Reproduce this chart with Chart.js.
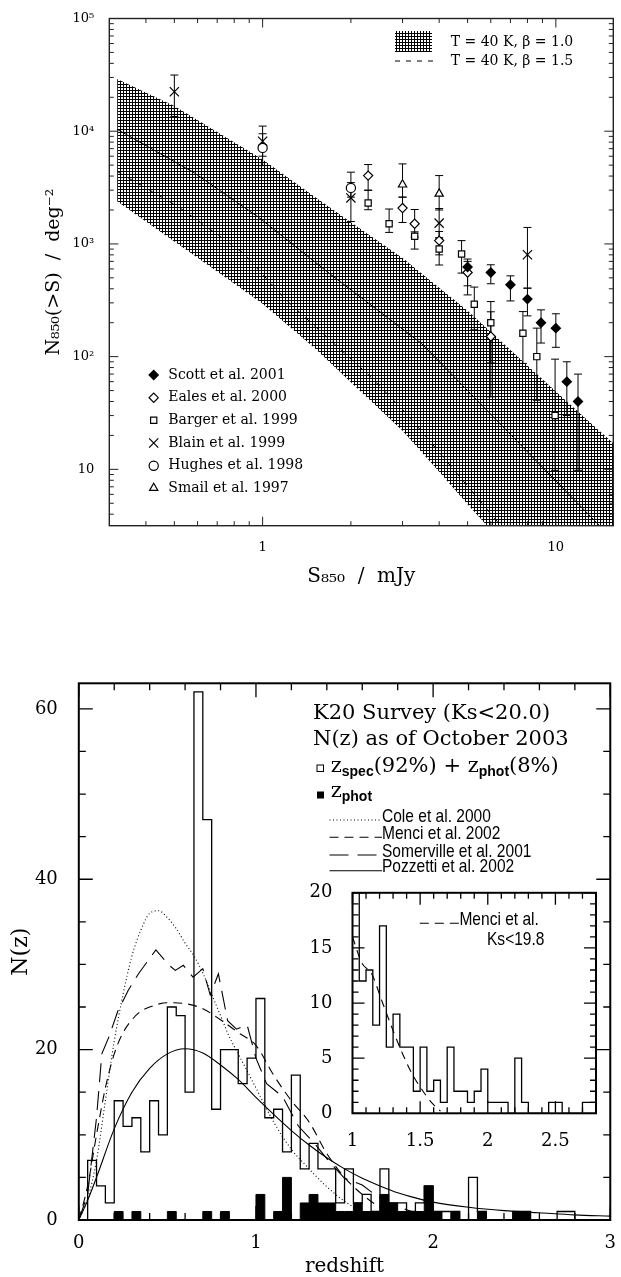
<!DOCTYPE html>
<html>
<head>
<meta charset="utf-8">
<title>Submm counts and K20 N(z)</title>
<script src="https://cdn.jsdelivr.net/npm/chart.js@4.4.1/dist/chart.umd.min.js"></script>
<style>
  html, body { margin:0; padding:0; background:#fff; }
  #page { position:relative; width:621px; height:1277px; background:#fff; overflow:hidden; }
  #page canvas { position:absolute; }
</style>
</head>
<body>
<div id="page">
  <canvas id="cTop" width="621" height="600" style="left:0;top:0;width:621px;height:600px"></canvas>
  <canvas id="cBot" width="621" height="637" style="left:0;top:640px;width:621px;height:637px"></canvas>
  <canvas id="cIns" width="310" height="290" style="left:300px;top:870px;width:310px;height:290px"></canvas>
</div>
<script>
// ================= TOP PANEL DATA (S850 in mJy, N(>S) per deg^2) =================
const BAND_S  = [0.319, 0.5, 0.7, 1.0, 1.5, 2.0, 3.0, 4.0, 5.0, 6.0, 7.5, 10, 12.5, 15.7];
const BAND_HI = [29000, 16700, 9830, 5600, 2640, 1560, 750, 408, 255, 165, 97, 49, 29, 17];
const BAND_LO = [2390, 1050, 568, 295, 120, 59.4, 22, 9.5, 4.9, 2.9, 1.44, 0.56, 0.275, 0.13];
const MODEL_SOLID_S = [0.319, 0.585, 0.976, 1.7, 3.48, 7.5, 15.7];
const MODEL_SOLID_N = [10400, 4270, 1700, 540, 131, 17, 2.37];
const MODEL_B15_S = [0.319, 0.514, 0.859, 1.2, 2.34, 3.14, 6.49, 8.0];
const MODEL_B15_N = [4400, 2150, 830, 319, 66, 30, 3.16, 1.7];

const SCOTT_S  = [5.0, 6.0, 7.0, 8.0, 8.9, 10.0, 10.9, 11.9];
const SCOTT_N  = [624, 558, 434, 324, 200, 179, 60, 40];
const SCOTT_LO = [425, 443, 312, 230, 132, 121, 30, 9.8];
const SCOTT_HI = [734, 653, 521, 405, 260, 240, 90, 70];

const EALES_S  = [2.29, 3.0, 3.3, 4.0, 5.0, 6.0];
const EALES_N  = [4040, 2080, 1510, 1070, 558, 151];
const EALES_LO = [3000, 1550, 1150, 800, 353, 44];
const EALES_HI = [5060, 2600, 2020, 1290, 700, 250];

const BARGER_S  = [2.29, 2.7, 3.3, 4.0, 4.77, 5.27, 6.0, 7.72, 8.61, 9.94];
const BARGER_N  = [2310, 1510, 1170, 900, 813, 292, 200, 161, 100, 30];
const BARGER_LO = [2010, 1265, 900, 650, 551, 173, 88, 87, 41, 9.8];
const BARGER_HI = [2990, 2040, 1280, 1130, 1070, 414, 308, 251, 179, 95];

const BLAIN_S  = [0.5, 1.0, 2.0, 4.0, 8.0];
const BLAIN_N  = [22400, 8150, 2560, 1530, 801];
const BLAIN_LO = [13500, 6000, 1580, 1130, 405];
const BLAIN_HI = [31500, 11100, 3500, 2060, 1400];

const HUGHES_S  = [1.0, 2.0];
const HUGHES_N  = [7110, 3140];
const HUGHES_LO = [4950, 2600];
const HUGHES_HI = [9500, 4330];

const SMAIL_S  = [3.0, 4.0];
const SMAIL_N  = [3360, 2790];
const SMAIL_LO = [2600, 2000];
const SMAIL_HI = [5130, 4040];

const TOP_X_LABELED = [1, 10];
const TOP_X_TEXT    = ['1', '10'];
const TOP_Y_LABELED = [10, 100, 1000, 10000, 100000];
const TOP_Y_TEXT    = ['10', '10²', '10³', '10⁴', '10⁵'];
const TOP_X_MINOR = [0.4,0.5,0.6,0.7,0.8,0.9,2,3,4,5,6,7,8,9];
const TOP_Y_MINOR = [4,5,6,7,8,9,20,30,40,50,60,70,80,90,200,300,400,500,600,700,800,900,
                     2000,3000,4000,5000,6000,7000,8000,9000,20000,30000,40000,50000,60000,70000,80000,90000];

// ================= BOTTOM PANEL DATA (redshift histogram) =================
const BIN_START = 0, BIN_WIDTH = 0.05;
const NZ_ALL  = [0,7,4,2,14,11,12,8,14,10, 25,24,15,62,47,13,20,20,16,19,
                 26,12,13,8,17,6,9,6,6,2,   6,2,3,1,6,2,2,1,2,4,
                 1,1,1,0,5,1,0,0,0,1,       1,0,0,0,1,1];
const NZ_PHOT = [0,0,0,0,1,0,1,0,0,0,       1,0,0,0,1,0,1,0,0,0,
                 3,0,1,5,0,2,3,2,2,1,       1,2,1,1,3,2,1,1,1,4,
                 1,0,1,0,0,1,0,0,0,1,       1,0,0,0,0,0];

const COLE_Z = [0,0.05,0.1,0.15,0.2,0.25,0.3,0.35,0.4,0.45,0.5,0.55,0.6,0.65,0.7,0.75,0.8,0.85,0.9,0.95,1.0,1.1,1.2,1.3,1.4,1.5,1.6,1.7];
const COLE_N = [0,2.5,7,14,21,26.5,31,34,36,36.3,35.5,34.2,32.5,31,29,26.5,24,21.5,19.5,17.5,15.5,11.5,8.3,6,3.9,2.2,1,0.3];
const MENCI_Z = [0,0.05,0.1,0.15,0.2,0.25,0.3,0.35,0.4,0.5,0.6,0.7,0.8,0.9,1.0,1.1,1.2,1.3,1.4,1.5,1.6,1.7,1.8,1.9];
const MENCI_N = [0,4,10,15.5,19.5,22,23.5,24.5,25,25.5,25.4,24.8,23.5,22,20.5,17,14,11.5,7.8,5,3,1.5,0.6,0.2];
const SOMER_Z = [0,0.05,0.1,0.13,0.17,0.22,0.28,0.34,0.435,0.51,0.545,0.59,0.645,0.7,0.742,0.788,0.84,0.89,0.95,1.0,1.06,1.15,1.24,1.33,1.42,1.5,1.6,1.69,1.77,1.89,2.0];
const SOMER_N = [0,3,12,19.5,21.5,24.5,27,29,31.7,29.9,29.3,29.9,28.5,29.5,26.4,28.9,23.4,22.4,22.9,19,16,14.5,11,9,6.7,4.9,4.1,2.7,1.8,0.9,0.4];
const POZZ_Z = [0,0.05,0.1,0.2,0.3,0.4,0.5,0.6,0.7,0.8,0.9,1.0,1.1,1.2,1.3,1.4,1.5,1.6,1.7,1.8,1.9,2.0,2.2,2.4,2.6,2.8,3.0];
const POZZ_N = [0,2.3,5,10.7,15,17.8,19.5,20.1,19.6,18.2,16.5,14.4,12.4,10.5,8.8,7.3,6,4.9,4,3.2,2.6,2.1,1.5,1.1,0.85,0.6,0.45];
const INSET_MENCI_Z = [1.0,1.07,1.14,1.22,1.3,1.37,1.44,1.51,1.59,1.65];
const INSET_MENCI_N = [16,13.6,12.7,10.1,7.5,5.4,3.6,2.2,0.9,0.2];

const BOT_X_LABELED = [0,1,2,3];
const BOT_Y_LABELED = [0,20,40,60];
const BOT_X_MINOR = [0.2,0.4,0.6,0.8,1.2,1.4,1.6,1.8,2.2,2.4,2.6,2.8];
const BOT_Y_MINOR = [5,10,15,25,30,35,45,50,55];
const INS_X_LABELED = [1,1.5,2,2.5];
const INS_Y_LABELED = [0,5,10,15,20];
const INS_X_MINOR = [1.1,1.2,1.3,1.4,1.6,1.7,1.8,1.9,2.1,2.2,2.3,2.4,2.6,2.7];
const INS_Y_MINOR = [1,2,3,4,6,7,8,9,11,12,13,14,16,17,18,19];

// ================= helpers =================
const SERIF = '"DejaVu Serif", serif';
const SANS = '"Liberation Sans", Arial, sans-serif';
const pts = (xs, ys) => xs.map((x, i) => ({x: x, y: ys[i]}));
function histPoints(counts) {
  const out = [{x: BIN_START, y: 0}];
  counts.forEach((c, i) => out.push({x: BIN_START + i * BIN_WIDTH, y: c}));
  out.push({x: BIN_START + counts.length * BIN_WIDTH, y: 0});
  return out;
}
function markerPoint(ctx, style, r, fill, x, y) {
  ctx.save();
  ctx.fillStyle = fill || '#000';
  ctx.strokeStyle = '#000';
  ctx.lineWidth = 1.2;
  Chart.helpers.drawPoint(ctx, {pointStyle: style, radius: r, rotation: 0, borderWidth: 1.2}, x, y);
  ctx.restore();
}
function drawFrameTicks(chart, cfg) {
  const ctx = chart.ctx, a = chart.chartArea, xs = chart.scales.x, ys = chart.scales.y;
  ctx.save();
  ctx.strokeStyle = cfg.color; ctx.lineWidth = cfg.tickWidth;
  ctx.beginPath();
  const addX = (vals, len) => vals.forEach(v => {
    const p = xs.getPixelForValue(v);
    if (p < a.left - 0.5 || p > a.right + 0.5) return;
    ctx.moveTo(p, a.bottom); ctx.lineTo(p, a.bottom - len);
    ctx.moveTo(p, a.top); ctx.lineTo(p, a.top + len);
  });
  const addY = (vals, len) => vals.forEach(v => {
    const p = ys.getPixelForValue(v);
    if (p < a.top - 0.5 || p > a.bottom + 0.5) return;
    ctx.moveTo(a.left, p); ctx.lineTo(a.left + len, p);
    ctx.moveTo(a.right, p); ctx.lineTo(a.right - len, p);
  });
  addX(cfg.xMajor, cfg.majLen); addX(cfg.xMinor, cfg.minLen);
  addY(cfg.yMajor, cfg.majLen); addY(cfg.yMinor, cfg.minLen);
  ctx.stroke();
  ctx.lineWidth = cfg.frameWidth;
  ctx.strokeRect(a.left, a.top, a.right - a.left, a.bottom - a.top);
  ctx.restore();
}
function richText(ctx, x, y, parts) {
  let cx = x;
  parts.forEach(p => {
    ctx.save();
    ctx.font = p.font;
    if (p.sx) { ctx.translate(cx, y + (p.dy || 0)); ctx.scale(p.sx, 1); ctx.fillText(p.t, 0, 0); }
    else ctx.fillText(p.t, cx, y + (p.dy || 0));
    cx += ctx.measureText(p.t).width * (p.sx || 1);
    ctx.restore();
  });
  return cx;
}

// ================= TOP CHART =================
const topCanvas = document.getElementById('cTop');
const hatchTile = document.createElement('canvas');
hatchTile.width = 3; hatchTile.height = 3;
{
  const g = hatchTile.getContext('2d');
  g.fillStyle = '#fff'; g.fillRect(0, 0, 3, 3);
  g.fillStyle = '#000'; g.fillRect(0, 0, 3, 1); g.fillRect(0, 0, 1, 3);
}
const HATCH = topCanvas.getContext('2d').createPattern(hatchTile, 'repeat');

const SERIES = [
  {name: 'Scott et al. 2001',  S: SCOTT_S,  N: SCOTT_N,  lo: SCOTT_LO,  hi: SCOTT_HI,  style: 'rectRot',  r: 4.6, fill: '#000'},
  {name: 'Eales et al. 2000',  S: EALES_S,  N: EALES_N,  lo: EALES_LO,  hi: EALES_HI,  style: 'rectRot',  r: 4.6, fill: '#fff'},
  {name: 'Barger et al. 1999', S: BARGER_S, N: BARGER_N, lo: BARGER_LO, hi: BARGER_HI, style: 'rect',     r: 4.4, fill: '#fff'},
  {name: 'Blain et al. 1999',  S: BLAIN_S,  N: BLAIN_N,  lo: BLAIN_LO,  hi: BLAIN_HI,  style: 'crossRot', r: 6.5, fill: '#fff'},
  {name: 'Hughes et al. 1998', S: HUGHES_S, N: HUGHES_N, lo: HUGHES_LO, hi: HUGHES_HI, style: 'circle',   r: 4.6, fill: '#fff'},
  {name: 'Smail et al. 1997',  S: SMAIL_S,  N: SMAIL_N,  lo: SMAIL_LO,  hi: SMAIL_HI,  style: 'triangle', r: 4.8, fill: '#fff'}
];

const topDatasets = [
  {label: 'band', data: pts(BAND_S, BAND_HI), borderWidth: 0, pointRadius: 0, fill: '+1', backgroundColor: HATCH, order: 10},
  {label: 'bandLow', data: pts(BAND_S, BAND_LO), borderWidth: 0, pointRadius: 0, fill: false, order: 11},
  {label: 'T = 40 K, β = 1.0 (central)', data: pts(MODEL_SOLID_S, MODEL_SOLID_N), borderColor: '#000', borderWidth: 1, pointRadius: 0, fill: false, order: 5},
  {label: 'T = 40 K, β = 1.5', data: pts(MODEL_B15_S, MODEL_B15_N), borderColor: '#000', borderWidth: 1, borderDash: [5, 7], pointRadius: 0, fill: false, order: 5}
];
SERIES.forEach(s => topDatasets.push({
  label: s.name, data: pts(s.S, s.N), showLine: false, pointStyle: s.style, pointRadius: s.r,
  pointBackgroundColor: s.fill, pointBorderColor: '#000', pointBorderWidth: 1.2, errLo: s.lo, errHi: s.hi, order: 0
}));

const topPlugin = {
  id: 'topPlugin',
  afterDatasetDraw(chart, args) {
    if (args.index !== 0) return;
    const ctx = chart.ctx, a = chart.chartArea, xs = chart.scales.x, ys = chart.scales.y;
    ctx.save();
    ctx.beginPath(); ctx.rect(a.left, a.top, a.right - a.left, a.bottom - a.top); ctx.clip();
    ctx.strokeStyle = '#000'; ctx.lineWidth = 1;
    ctx.beginPath();
    chart.data.datasets.forEach(ds => {
      if (!ds.errLo) return;
      ds.data.forEach((p, i) => {
        const x = xs.getPixelForValue(p.x);
        const y1 = ys.getPixelForValue(ds.errLo[i]);
        const y2 = ys.getPixelForValue(ds.errHi[i]);
        ctx.moveTo(x, y1); ctx.lineTo(x, y2);
        ctx.moveTo(x - 4, y1); ctx.lineTo(x + 4, y1);
        ctx.moveTo(x - 4, y2); ctx.lineTo(x + 4, y2);
      });
    });
    ctx.stroke();
    ctx.restore();
  },
  afterDraw(chart) {
    drawFrameTicks(chart, {color: '#222', tickWidth: 1, frameWidth: 1.4,
      xMajor: TOP_X_LABELED, xMinor: TOP_X_MINOR, yMajor: TOP_Y_LABELED, yMinor: TOP_Y_MINOR, majLen: 9, minLen: 4.5});
    const ctx = chart.ctx;
    ctx.save();
    // upper-right key
    ctx.fillStyle = HATCH; ctx.fillRect(395, 31, 37, 21);
    ctx.strokeStyle = '#000'; ctx.lineWidth = 1; ctx.setLineDash([5, 6]);
    ctx.beginPath(); ctx.moveTo(395, 61); ctx.lineTo(433, 61); ctx.stroke();
    ctx.setLineDash([]);
    ctx.fillStyle = '#000'; ctx.font = '14px ' + SERIF; ctx.textBaseline = 'middle'; ctx.textAlign = 'left';
    ctx.fillText('T = 40 K, β = 1.0', 450.7, 42);
    ctx.fillText('T = 40 K, β = 1.5', 450.7, 61);
    // lower-left key of data sets
    const rows = [375, 397.7, 420.3, 443, 465.7, 488];
    SERIES.forEach((s, i) => {
      markerPoint(ctx, s.style, s.r, s.fill, 153.7, rows[i]);
      ctx.fillStyle = '#000'; ctx.font = '14px ' + SERIF; ctx.textBaseline = 'middle';
      ctx.fillText(s.name, 168.3, rows[i]);
    });
    ctx.restore();
  }
};

new Chart(topCanvas, {
  type: 'line',
  data: {datasets: topDatasets},
  options: {
    responsive: false, animation: false, devicePixelRatio: 1,
    layout: {padding: {left: 0, right: 5.2, top: 18.5, bottom: 0}},
    plugins: {legend: {display: false}, tooltip: {enabled: false}, filler: {propagate: false}},
    elements: {line: {tension: 0}},
    scales: {
      x: {
        type: 'logarithmic', min: 0.319, max: 15.7,
        grid: {display: false}, border: {display: false},
        afterBuildTicks: s => { s.ticks = TOP_X_LABELED.map(v => ({value: v})); },
        afterFit: s => { s.height = 74.3; },
        ticks: {autoSkip: false, maxRotation: 0, padding: 6, color: '#000', font: {family: SERIF, size: 13},
                callback: (v, i) => TOP_X_TEXT[i]},
        title: {display: true, text: 'S₈₅₀  /  mJy', color: '#000', font: {family: SERIF, size: 20, lineHeight: 1.2}, padding: {top: 0, bottom: 11}}
      },
      y: {
        type: 'logarithmic', min: 3.1623, max: 100000,
        grid: {display: false}, border: {display: false},
        afterBuildTicks: s => { s.ticks = TOP_Y_LABELED.map(v => ({value: v})); },
        afterFit: s => { s.width = 109.3; },
        ticks: {autoSkip: false, padding: 7, color: '#000', font: {family: SERIF, size: 13},
                callback: (v, i) => TOP_Y_TEXT[i]},
        title: {display: true, text: 'N₈₅₀(>S)  /  deg⁻²', color: '#000', font: {family: SERIF, size: 19, lineHeight: 1.2}, padding: {top: 43, bottom: 0}}
      }
    }
  },
  plugins: [topPlugin]
});

// ================= BOTTOM CHART =================
const botPlugin = {
  id: 'botPlugin',
  afterDraw(chart) {
    drawFrameTicks(chart, {color: '#000', tickWidth: 1.3, frameWidth: 2,
      xMajor: BOT_X_LABELED, xMinor: BOT_X_MINOR, yMajor: BOT_Y_LABELED, yMinor: BOT_Y_MINOR, majLen: 14, minLen: 7});
    const ctx = chart.ctx;
    ctx.save();
    ctx.fillStyle = '#000'; ctx.textBaseline = 'alphabetic'; ctx.textAlign = 'left';
    const big = '21px ' + SERIF;
    ctx.font = big;
    ctx.fillText('K20 Survey (Ks<20.0)', 313, 79.3);
    ctx.fillText('N(z) as of October 2003', 313, 105);
    // open / filled keys
    ctx.strokeStyle = '#000'; ctx.lineWidth = 1;
    ctx.strokeRect(317, 125, 6.5, 6.5);
    ctx.fillRect(317, 151.5, 7, 7);
    const sub = 'bold 14px ' + SANS;
    richText(ctx, 330.7, 131.7, [
      {t: 'z', font: big}, {t: 'spec', font: sub, dy: 4}, {t: '(92%) + ', font: big},
      {t: 'z', font: big}, {t: 'phot', font: sub, dy: 4}, {t: '(8%)', font: big}
    ]);
    richText(ctx, 330.7, 156.7, [{t: 'z', font: big}, {t: 'phot', font: sub, dy: 4}]);
    // model keys
    const keys = [
      {t: 'Cole et al. 2000', y: 180, dash: [1, 2.5]},
      {t: 'Menci et al. 2002', y: 197.3, dash: [9, 6]},
      {t: 'Somerville et al. 2001', y: 215, dash: [19, 9]},
      {t: 'Pozzetti et al. 2002', y: 230.7, dash: []}
    ];
    keys.forEach(k => {
      ctx.setLineDash(k.dash); ctx.lineWidth = 1.1;
      ctx.beginPath(); ctx.moveTo(329.5, k.y); ctx.lineTo(382, k.y); ctx.stroke();
      ctx.setLineDash([]);
      richText(ctx, 382, k.y + 1.6, [{t: k.t, font: '18.5px ' + SANS, sx: 0.84}]);
    });
    ctx.restore();
  }
};

new Chart(document.getElementById('cBot'), {
  type: 'line',
  data: {datasets: [
    {label: 'zspec(92%) + zphot(8%)', data: histPoints(NZ_ALL), stepped: 'before', borderColor: '#000', borderWidth: 1.3, pointRadius: 0, fill: false, order: 3},
    {label: 'zphot', data: histPoints(NZ_PHOT), stepped: 'before', borderColor: '#000', borderWidth: 1, backgroundColor: '#000', pointRadius: 0, fill: 'origin', order: 4},
    {label: 'Cole et al. 2000', data: pts(COLE_Z, COLE_N), borderColor: '#000', borderWidth: 1.1, borderDash: [1, 2.5], pointRadius: 0, cubicInterpolationMode: 'monotone', fill: false, order: 1},
    {label: 'Menci et al. 2002', data: pts(MENCI_Z, MENCI_N), borderColor: '#000', borderWidth: 1.1, borderDash: [9, 6], pointRadius: 0, cubicInterpolationMode: 'monotone', fill: false, order: 1},
    {label: 'Somerville et al. 2001', data: pts(SOMER_Z, SOMER_N), borderColor: '#000', borderWidth: 1.1, borderDash: [19, 9], pointRadius: 0, fill: false, order: 1},
    {label: 'Pozzetti et al. 2002', data: pts(POZZ_Z, POZZ_N), borderColor: '#000', borderWidth: 1.1, pointRadius: 0, cubicInterpolationMode: 'monotone', fill: false, order: 1}
  ]},
  options: {
    responsive: false, animation: false, devicePixelRatio: 1,
    layout: {padding: {left: 0, right: 5.2, top: 43.3, bottom: 0}},
    plugins: {legend: {display: false}, tooltip: {enabled: false}},
    scales: {
      x: {
        type: 'linear', min: 0, max: 3,
        grid: {display: false}, border: {display: false},
        afterBuildTicks: s => { s.ticks = BOT_X_LABELED.map(v => ({value: v})); },
        afterFit: s => { s.height = 57; },
        ticks: {autoSkip: false, maxRotation: 0, padding: 5, color: '#000', font: {family: SERIF, size: 18},
                callback: v => String(v)},
        title: {display: true, text: 'redshift', color: '#000', font: {family: SERIF, size: 20, lineHeight: 1}, padding: {top: 0, bottom: 0}}
      },
      y: {
        type: 'linear', min: 0, max: 63,
        grid: {display: false}, border: {display: false},
        afterBuildTicks: s => { s.ticks = BOT_Y_LABELED.map(v => ({value: v})); },
        afterFit: s => { s.width = 78.8; },
        ticks: {autoSkip: false, padding: 13, color: '#000', font: {family: SERIF, size: 18},
                callback: v => String(v)},
        title: {display: true, text: 'N(z)', color: '#000', font: {family: SERIF, size: 22, lineHeight: 1.2}, padding: {top: 8.5, bottom: 0}}
      }
    }
  },
  plugins: [botPlugin]
});

// ================= INSET CHART =================
const insPlugin = {
  id: 'insPlugin',
  afterDraw(chart) {
    drawFrameTicks(chart, {color: '#000', tickWidth: 1.3, frameWidth: 2,
      xMajor: INS_X_LABELED, xMinor: INS_X_MINOR, yMajor: INS_Y_LABELED, yMinor: INS_Y_MINOR, majLen: 12, minLen: 6});
    const ctx = chart.ctx;
    ctx.save();
    ctx.strokeStyle = '#000'; ctx.lineWidth = 1.1; ctx.setLineDash([9, 6]);
    ctx.beginPath(); ctx.moveTo(119.8, 53.3); ctx.lineTo(159.4, 53.3); ctx.stroke();
    ctx.setLineDash([]);
    ctx.fillStyle = '#000'; ctx.textBaseline = 'alphabetic';
    richText(ctx, 159.4, 55, [{t: 'Menci et al.', font: '18.5px ' + SANS, sx: 0.84}]);
    richText(ctx, 187, 75, [{t: 'Ks<19.8', font: '18.5px ' + SANS, sx: 0.84}]);
    ctx.restore();
  }
};

new Chart(document.getElementById('cIns'), {
  type: 'line',
  data: {datasets: [
    {label: 'N(z), z>1', data: histPoints(NZ_ALL), stepped: 'before', borderColor: '#000', borderWidth: 1.3, pointRadius: 0, fill: false, clip: 0},
    {label: 'Menci et al., Ks<19.8', data: pts(INSET_MENCI_Z, INSET_MENCI_N), borderColor: '#000', borderWidth: 1.1, borderDash: [8, 6], pointRadius: 0, cubicInterpolationMode: 'monotone', fill: false, clip: 0}
  ]},
  options: {
    responsive: false, animation: false, devicePixelRatio: 1,
    layout: {padding: {left: 0, right: 14, top: 18.3, bottom: 0}},
    plugins: {legend: {display: false}, tooltip: {enabled: false}},
    scales: {
      x: {
        type: 'linear', min: 1, max: 2.8,
        grid: {display: false}, border: {display: false},
        afterBuildTicks: s => { s.ticks = INS_X_LABELED.map(v => ({value: v})); },
        afterFit: s => { s.height = 46.7; },
        ticks: {autoSkip: false, maxRotation: 0, padding: 9, color: '#000', font: {family: SERIF, size: 18},
                callback: v => String(v)}
      },
      y: {
        type: 'linear', min: 0, max: 20,
        grid: {display: false}, border: {display: false},
        afterBuildTicks: s => { s.ticks = INS_Y_LABELED.map(v => ({value: v})); },
        afterFit: s => { s.width = 52.5; },
        ticks: {autoSkip: false, padding: 12, color: '#000', font: {family: SERIF, size: 18},
                callback: v => String(v)}
      }
    }
  },
  plugins: [insPlugin]
});
</script>
</body>
</html>
